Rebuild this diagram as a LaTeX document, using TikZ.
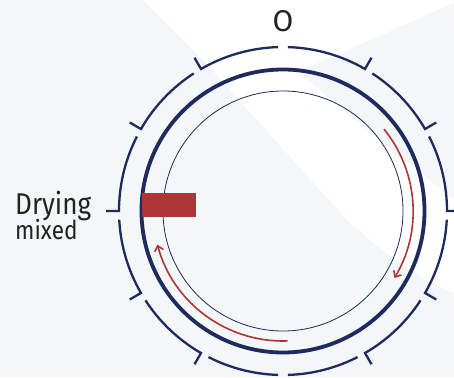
\documentclass[tikz,border=0pt]{standalone}
\usepackage{fontspec}
\setmainfont{Fira Sans}
\newfontfamily\lblfont[FakeStretch=0.87]{Fira Sans}
\usetikzlibrary{arrows.meta}
\definecolor{navy}{HTML}{1F2A5E}
\definecolor{dred}{HTML}{AD3538}
\definecolor{bgc}{HTML}{F3F7F8}
\definecolor{txt}{HTML}{222222}
\begin{document}
\begin{tikzpicture}[x=1pt,y=1pt,
  seg/.style={draw=navy,line width=2.3pt,miter limit=10},
  redarc/.style={draw=dred,line width=1.6pt,-{Straight Barb[length=5pt,width=9pt,line width=1.6pt]}},
  lbl/.style={text=txt,inner sep=0pt}]
\useasboundingbox (0,0) rectangle (454,-377);
\fill[bgc] (0,0) rectangle (454,-377);
\fill[white] (143,0) -- (454,0) -- (454,-293) .. controls (420,-278) and (385,-255) .. (347,-220) -- (203,-60) -- cycle;
\fill[bgc] (454,-3) -- (298,-72) -- (380,-140) -- (454,-200) -- cycle;
\coordinate (C) at (283,-211);
\begin{scope}[shift={(C)}]
  % main circles
  \draw[navy,line width=3.8pt] (0,0) circle[radius=141.5];
  \draw[navy,line width=0.8pt] (0,0) circle[radius=120];
  % outer segmented ring, right side (tick at lower end)
  \foreach \a/\b in {60/88.3, 30/57, 0/27, -30/-3, -60/-33}{
    \draw[seg] (\a:177) -- (\a:164) arc[start angle=\a,end angle=\b,radius=164];
  }
  \draw[seg] (-63:164) arc[start angle=-63,end angle=-88.3,radius=164];
  % left side (tick at ccw end)
  \foreach \a/\b in {91.7/120, 123/150, 153/180, 183/210, 213/240}{
    \draw[seg] (\a:164) arc[start angle=\a,end angle=\b,radius=164] -- (\b:177);
  }
  \draw[seg] (243:164) arc[start angle=243,end angle=268.3,radius=164];
  % red arrows
  \draw[redarc] (39:130) arc[start angle=39,end angle=-31,radius=130];
  \draw[redarc] (-88:130) arc[start angle=-88,end angle=-165,radius=130];
\end{scope}
\fill[dred] (142,-193) rectangle (196,-217);
\node[lbl,anchor=base] (zero) at (283,-31.5) {\fontsize{30}{30}\selectfont O};
\node[lbl,anchor=base west] (drying) at (15,-214) {\lblfont\fontsize{30}{30}\selectfont Drying};
\node[lbl,anchor=base west] (mixed) at (15,-239) {\lblfont\fontsize{26}{26}\selectfont mixed};
\end{tikzpicture}
\end{document}
